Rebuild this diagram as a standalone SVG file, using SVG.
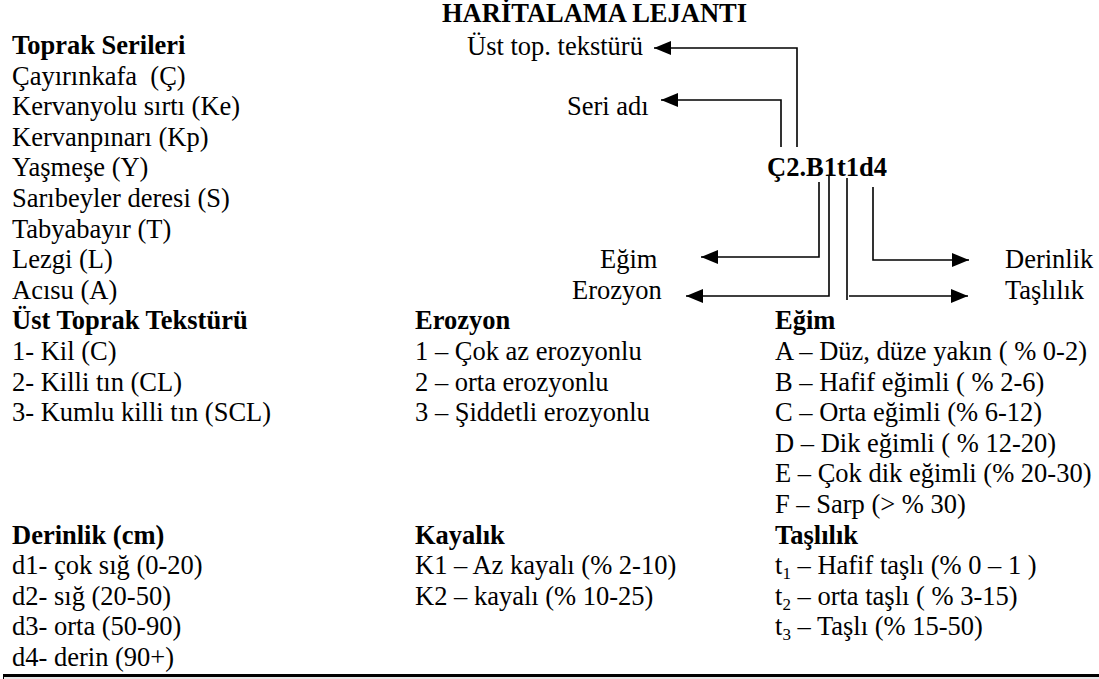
<svg xmlns="http://www.w3.org/2000/svg" width="1099" height="679" viewBox="0 0 1099 679">
<style>
text{font-family:"Liberation Serif","Times New Roman",serif;font-size:26.5px;fill:#000;white-space:pre}
.b{font-weight:bold}
.sub{font-size:17px}
.c{fill:none;stroke:#000;stroke-width:1.6}
</style>
<defs>
<marker id="ah" markerUnits="userSpaceOnUse" markerWidth="18" markerHeight="15" refX="17" refY="7" orient="auto">
<path d="M0,0 L17,7 L0,14 z" fill="#000"/>
</marker>
</defs>
<rect width="1099" height="679" fill="#fff"/>
<g id="title"><text class="b" x="442" y="22">HARİTALAMA LEJANTI</text></g>
<g id="toprak-serileri">
<text class="b" x="12" y="54">Toprak Serileri</text>
<text x="12" y="84.6">Çayırınkafa  (Ç)</text>
<text x="12" y="115.2">Kervanyolu sırtı (Ke)</text>
<text x="12" y="145.8">Kervanpınarı (Kp)</text>
<text x="12" y="176.4">Yaşmeşe (Y)</text>
<text x="12" y="207">Sarıbeyler deresi (S)</text>
<text x="12" y="237.6">Tabyabayır (T)</text>
<text x="12" y="268.2">Lezgi (L)</text>
<text x="12" y="298.8">Acısu (A)</text>
</g>
<g id="ust-toprak">
<text class="b" x="12" y="329.4">Üst Toprak Tekstürü</text>
<text x="12" y="360">1- Kil (C)</text>
<text x="12" y="390.6">2- Killi tın (CL)</text>
<text x="12" y="421.2">3- Kumlu killi tın (SCL)</text>
</g>
<g id="erozyon">
<text class="b" x="415" y="329.4">Erozyon</text>
<text x="415" y="360">1 – Çok az erozyonlu</text>
<text x="415" y="390.6">2 – orta erozyonlu</text>
<text x="415" y="421.2">3 – Şiddetli erozyonlu</text>
</g>
<g id="egim">
<text class="b" x="775" y="329.4">Eğim</text>
<text x="775" y="360">A – Düz, düze yakın ( % 0-2)</text>
<text x="775" y="390.6">B – Hafif eğimli ( % 2-6)</text>
<text x="775" y="421.2">C – Orta eğimli (% 6-12)</text>
<text x="775" y="451.8">D – Dik eğimli ( % 12-20)</text>
<text x="775" y="482.4">E – Çok dik eğimli (% 20-30)</text>
<text x="775" y="513">F – Sarp (&gt; % 30)</text>
</g>
<g id="derinlik">
<text class="b" x="12" y="543.6">Derinlik (cm)</text>
<text x="12" y="574.2">d1- çok sığ (0-20)</text>
<text x="12" y="604.8">d2- sığ (20-50)</text>
<text x="12" y="635.4">d3- orta (50-90)</text>
<text x="12" y="666">d4- derin (90+)</text>
</g>
<g id="kayalik">
<text class="b" x="415" y="543.6">Kayalık</text>
<text x="415" y="574.2">K1 – Az kayalı (% 2-10)</text>
<text x="415" y="604.8">K2 – kayalı (% 10-25)</text>
</g>
<g id="taslilik">
<text class="b" x="775" y="543.6">Taşlılık</text>
<text x="775" y="574.2">t<tspan class="sub" dy="5">1</tspan><tspan dy="-5"> – Hafif taşlı (% 0 – 1 )</tspan></text>
<text x="775" y="604.8">t<tspan class="sub" dy="5">2</tspan><tspan dy="-5"> – orta taşlı ( % 3-15)</tspan></text>
<text x="775" y="635.4">t<tspan class="sub" dy="5">3</tspan><tspan dy="-5"> – Taşlı (% 15-50)</tspan></text>
</g>
<g id="code"><text class="b" x="767" y="176.4">Ç2.B1t1d4</text></g>
<g id="lbl-ust"><text x="467" y="55">Üst top. tekstürü</text></g>
<g id="lbl-seri"><text x="567" y="115.2">Seri adı</text></g>
<g id="lbl-egim"><text x="600" y="268.2">Eğim</text></g>
<g id="lbl-erozyon"><text x="572" y="298.8">Erozyon</text></g>
<g id="lbl-derinlik"><text x="1005" y="268.2">Derinlik</text></g>
<g id="lbl-taslilik"><text x="1005" y="298.8">Taşlılık</text></g>
<g id="connectors">
<path class="c" d="M797,147 V48 H654" marker-end="url(#ah)"/>
<path class="c" d="M781,147 V100 H661" marker-end="url(#ah)"/>
<path class="c" d="M819,182 V257 H701" marker-end="url(#ah)"/>
<path class="c" d="M829,175 V296 H686" marker-end="url(#ah)"/>
<path class="c" d="M847,178 V300"/>
<path class="c" d="M849,296 H968" marker-end="url(#ah)"/>
<path class="c" d="M873,187 V260 H969" marker-end="url(#ah)"/>
</g>
<g id="border">
<rect x="4" y="677" width="1095" height="2" fill="#e6e6e6"/>
<rect x="3" y="674" width="1096" height="3" fill="#000"/>
<line x1="3.5" y1="674" x2="3.5" y2="679" stroke="#000" stroke-width="1"/>
</g>
</svg>
